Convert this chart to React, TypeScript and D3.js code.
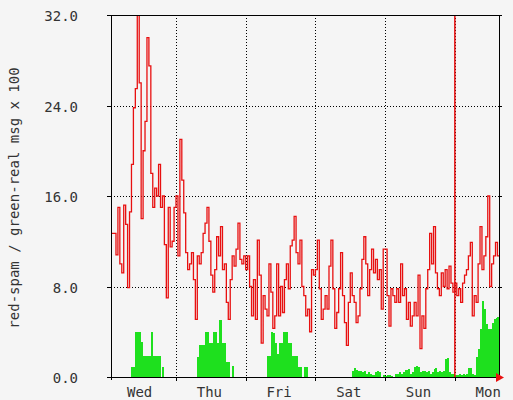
import React from "react";
import * as d3 from "d3";

// ---- data (hours measured from Wed 00:00, one sample every 40 minutes) ----
const dayLabels = ["Wed", "Thu", "Fri", "Sat", "Sun", "Mon"];
const dayLabelHours = [12, 36, 60, 84, 108, 132];
const dayBoundaryHours = [24, 48, 72, 96, 120];
const yTickValues = [0, 8, 16, 24, 32];
const yGridValues = [8, 16, 24];
const stepHours = 2 / 3;
const viewHours = [1.62, 135.2];
const spikeHours = [120];

const spamWed = [12.7, 12.7, 12.7, 10.8, 15, 10, 9.2, 15.2, 13.5, 7.9, 14.6, 18.8, 23.8, 25.5, 32.5, 26, 14, 20, 22.6, 30, 27.5, 18, 15, 16.7, 16, 18.8, 15, 16, 11.7, 7, 15, 11.5, 12, 15];
const spamThu = [16, 10.7, 21, 17.4, 14.5, 11, 9.5, 10, 11, 8.6, 5.1, 10.7, 10, 11, 12.7, 13.6, 15, 12, 9, 7.5, 9.5, 12.4, 10.7, 13.3, 9.5, 10, 6.6, 5.1, 8.6, 10.7, 9.8, 11.3, 13.6, 10.4, 10, 10.7];
const spamFri = [9.5, 10.7, 8, 5.4, 8.6, 5.1, 12.1, 9, 3, 7.2, 6, 5.4, 10, 7.5, 4.3, 5.4, 10, 5.4, 8, 5.7, 8.6, 10, 7.8, 11.6, 12.1, 14.2, 11, 10, 12.1, 8, 7.2, 5.4, 6, 4, 9.5, 9];
const spamSat = [9.5, 12.1, 7.8, 5.1, 6, 7.2, 6, 9.8, 12.1, 7.8, 4.3, 5.7, 7.8, 11, 7.2, 4.8, 2.8, 6.6, 9.2, 7.2, 6.6, 4.8, 5.4, 7.8, 10.4, 12.4, 10, 7.2, 9.5, 11.3, 9.2, 10.4, 8.6, 9.5, 6, 11.3];
const spamSun = [11.3, 7.2, 4.5, 7.8, 7.2, 6.6, 7.8, 6.6, 10, 7.2, 7.8, 5.1, 6.6, 4.5, 5.4, 6.6, 5.4, 9, 2.5, 5.4, 4.3, 7.8, 9.5, 12.7, 10, 13.3, 9.2, 7.8, 7.2, 9.2, 8, 9.5, 7.8, 9.8, 8.3, 7.5];
const spamMon = [8.3, 7.2, 7.8, 6.6, 8.3, 9, 9.5, 10.7, 11.9, 5.4, 7.2, 6.6, 10, 13.3, 9.5, 10.7, 12.4, 16, 8, 10, 10.7, 11.9, 10.7];

const realWed = [0, 0, 0, 0, 0, 0, 0, 0, 0, 0, 0, 0.9, 0.9, 4.0, 4.0, 4.0, 3.1, 1.9, 1.9, 1.9, 1.9, 4.0, 1.9, 1.9, 1.9, 1.9, 0, 0.9, 0, 0, 0, 0, 0, 0];
const realThu = [0, 0, 0, 0, 0, 0, 0, 0, 0, 0, 0, 1.8, 2.8, 2.8, 2.8, 4.0, 4.0, 3.0, 3.0, 4.0, 4.0, 3.0, 5.0, 5.0, 3.0, 3.0, 1.3, 1.3, 0, 1.0, 0, 0, 0, 0, 0, 0];
const realFri = [0, 0, 0, 0, 0, 0, 0, 0, 0, 0, 0, 1.9, 1.9, 4.0, 3.9, 3.0, 2.0, 3.0, 3.0, 4.0, 4.0, 4.0, 3.0, 3.0, 1.9, 1.9, 1.9, 0.9, 0.9, 0, 0.9, 0.9, 0, 0, 0, 0];
const realSat = [0, 0, 0, 0, 0, 0, 0, 0, 0, 0, 0, 0, 0, 0, 0, 0, 0, 0, 0, 0.5, 0.8, 0.6, 0.5, 0.5, 0.4, 0.5, 0.3, 0.4, 0.3, 0.2, 0.2, 0.4, 0.5, 0.4, 0, 0.2];
const realSun = [0.1, 0.2, 0.2, 0.1, 0, 0.3, 0.3, 0.4, 0.3, 0.4, 0.6, 0.6, 0.7, 0.3, 0.4, 0.9, 1.0, 0.9, 0.4, 0.5, 0.5, 0.4, 0.5, 0.3, 0.4, 0.7, 0.8, 0.4, 0.5, 0.4, 0.5, 1.6, 1.7, 0.4, 0.3, 0.3];
const realMon = [0.2, 0.2, 0.3, 0.2, 0.3, 0.2, 0.3, 0.8, 0.8, 0.3, 0.2, 1.8, 2.5, 4.2, 6.7, 6.0, 4.7, 4.2, 4.2, 4.8, 5.1, 5.2, 5.3];

type Pt = { t: number; spam: number; real: number };

export default function App() {
  const W = 513;
  const H = 400;
  const left = 111;
  const right = 499;
  const top = 15;
  const bottom = 377;

  const x = d3.scaleLinear().domain(viewHours).range([left, right]);
  const y = d3.scaleLinear().domain([0, 32]).range([bottom, top]);

  const spam = [...spamWed, ...spamThu, ...spamFri, ...spamSat, ...spamSun, ...spamMon];
  const real = [...realWed, ...realThu, ...realFri, ...realSat, ...realSun, ...realMon];
  const t0 = 24 - spamWed.length * stepHours;
  const pts: Pt[] = spam.map((v, i) => ({ t: t0 + i * stepHours, spam: v, real: real[i] }));
  pts.push({ t: t0 + spam.length * stepHours, spam: spam[spam.length - 1], real: real[real.length - 1] });

  const px = (t: number) => Math.round(x(t));
  const py = (v: number) => Math.round(y(v));

  const line = d3
    .line<Pt>()
    .x((d) => x(d.t))
    .y((d) => y(d.spam))
    .curve(d3.curveStepAfter);
  const area = d3
    .area<Pt>()
    .x((d) => px(d.t))
    .y0(bottom)
    .y1((d) => py(d.real))
    .curve(d3.curveStepAfter);

  const font = "'DejaVu Sans Mono', monospace";
  const textColor = "#333";
  const red = "#e81010";
  const green = "#1ee01e";
  const bg = "#f5f5f5";

  return (
    <svg
      width={W}
      height={H}
      style={{ position: "fixed", left: 0, top: 0, display: "block" }}
      xmlns="http://www.w3.org/2000/svg"
    >
      <defs>
        <clipPath id="plotClip">
          <rect x={left} y={top} width={right - left} height={bottom - top} />
        </clipPath>
      </defs>
      <rect x={0} y={0} width={W} height={H} fill={bg} />

      {/* grid */}
      <g stroke="#000" strokeWidth={1} strokeDasharray="1,2">
        {yGridValues.map((v) => (
          <line key={"hg" + v} x1={left} x2={right} y1={py(v) + 0.5} y2={py(v) + 0.5} />
        ))}
        {dayBoundaryHours.map((h) => (
          <line key={"vg" + h} x1={px(h) + 0.5} x2={px(h) + 0.5} y1={top} y2={bottom} />
        ))}
      </g>

      {/* data */}
      <g clipPath="url(#plotClip)">
        <path d={area(pts) || ""} fill={green} />
        <path d={line(pts) || ""} fill="none" stroke={red} strokeWidth={1.3} />
        {spikeHours.map((h) => (
          <line key={"sp" + h} x1={x(h)} x2={x(h)} y1={top} y2={bottom} stroke={red} strokeWidth={1.5} />
        ))}
      </g>

      {/* frame & axes */}
      <g stroke="#000" strokeWidth={1} fill="none">
        <line x1={left - 4} x2={right + 3} y1={top + 0.5} y2={top + 0.5} />
        <line x1={left + 0.5} x2={left + 0.5} y1={top} y2={bottom + 3} />
        <line x1={right + 0.5} x2={right + 0.5} y1={top} y2={bottom} />
        <line x1={left - 4} x2={right + 1} y1={bottom + 0.5} y2={bottom + 0.5} />
        {yTickValues.map((v) => (
          <g key={"yt" + v}>
            <line x1={left - 4} x2={left} y1={py(v) + 0.5} y2={py(v) + 0.5} />
            <line x1={right} x2={right + 3} y1={py(v) + 0.5} y2={py(v) + 0.5} />
          </g>
        ))}
        {dayBoundaryHours.map((h) => (
          <line key={"xt" + h} x1={px(h) + 0.5} x2={px(h) + 0.5} y1={bottom} y2={bottom + 4} />
        ))}
      </g>
      <polygon
        points={`${right - 3},${bottom - 4} ${right + 5},${bottom + 0.5} ${right - 3},${bottom + 5}`}
        fill={red}
      />

      {/* labels */}
      <g fontFamily={font} fontSize={14} fill={textColor}>
        {yTickValues.map((v) => (
          <text key={"yl" + v} x={78} y={py(v) + 5.5} textAnchor="end">
            {v.toFixed(1)}
          </text>
        ))}
        {dayLabels.map((d, i) => (
          <text key={"xl" + d} x={x(dayLabelHours[i]) - 1.5} y={397} textAnchor="middle">
            {d}
          </text>
        ))}
        <text transform={`translate(19,198) rotate(-90)`} textAnchor="middle">
          red-spam / green-real msg x 100
        </text>
      </g>
    </svg>
  );
}
